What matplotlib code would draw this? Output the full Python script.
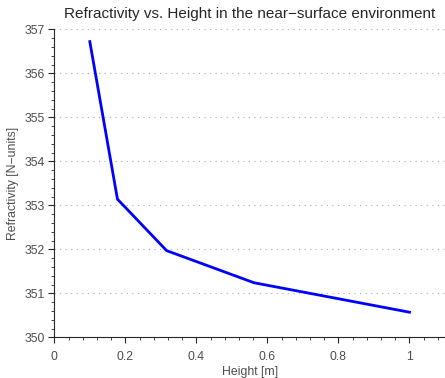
import matplotlib
matplotlib.use("Agg")
import matplotlib.pyplot as plt
from matplotlib.ticker import MultipleLocator, FuncFormatter

height = [0.1, 0.1778, 0.3162, 0.5623, 1.0]
refractivity = [356.72, 353.14, 351.97, 351.24, 350.57]
title = "Refractivity vs. Height in the near\u2212surface environment"
xlabel = "Height [m]"
ylabel = "Refractivity [N\u2212units]"

plt.rcParams['font.family'] = ['Liberation Sans', 'DejaVu Sans']
W, H = 445, 378
fig = plt.figure(figsize=(W / 100, H / 100), dpi=100)
l, r = 54.3 / W, 445 / W
b, t = 1 - 337.3 / H, 1 - 29.3 / H
ax = fig.add_axes([l, b, r - l, t - b])

ax.plot(height, refractivity, color='#0000ff', lw=2.0)
ax.set_xlim(0, 1.1)
ax.set_ylim(350, 357)

ax.xaxis.set_major_locator(MultipleLocator(0.2))
ax.xaxis.set_minor_locator(MultipleLocator(0.04))
ax.yaxis.set_major_locator(MultipleLocator(1))
ax.yaxis.set_minor_locator(MultipleLocator(0.2))

def fmt(v, p):
    s = f"{v:.1f}"
    if s.endswith(".0"):
        s = s[:-2]
    return s
ax.xaxis.set_major_formatter(FuncFormatter(fmt))

for s in ['top', 'right']:
    ax.spines[s].set_visible(False)
for s in ['left', 'bottom']:
    ax.spines[s].set_color('#262626')
    ax.spines[s].set_linewidth(0.8)

ax.tick_params(which='major', direction='out', length=4, width=0.8, color='#262626',
               labelsize=8.8, labelcolor='#4d4d4d')
ax.tick_params(axis='x', which='major', pad=6)
ax.tick_params(axis='y', which='major', pad=3)
ax.tick_params(which='minor', direction='out', length=2, width=0.6, color='#262626')

ax.yaxis.grid(True, which='major', linestyle=(0, (1, 4)), color='#aaaaaa', linewidth=0.8)
ax.set_axisbelow(True)

ax.set_title(title, fontsize=11, color='#262626', pad=8)
ax.set_xlabel(xlabel, fontsize=8.8, color='#4d4d4d', labelpad=2)
ax.set_ylabel(ylabel, fontsize=8.8, color='#4d4d4d', labelpad=4)

fig.savefig("out.png", dpi=100)
